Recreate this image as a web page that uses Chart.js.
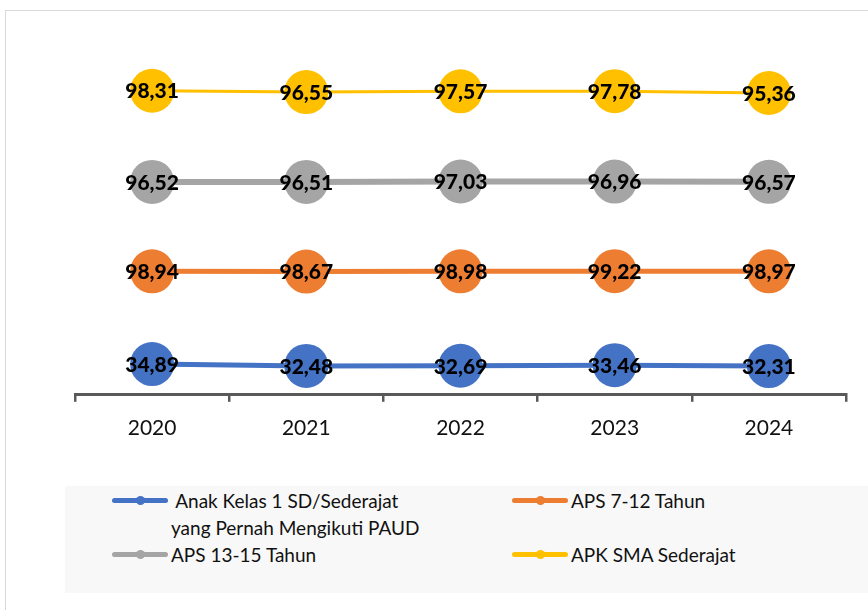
<!DOCTYPE html>
<html>
<head>
<meta charset="utf-8">
<script src="https://cdn.jsdelivr.net/npm/chart.js@4"></script>
<style>
  body { margin: 0; background: #fff; font-family: Lato, sans-serif; }
  #wrap { position: relative; width: 868px; height: 610px; overflow: hidden; }
  #frame { position: absolute; left: 5px; top: 10px; width: 900px; height: 700px; border: 1.5px solid #d9d9d9; }
  #chartBox { position: absolute; left: 0; top: 0; width: 868px; height: 471px; }
  #legend { position: absolute; left: 65px; top: 486px; width: 820px; height: 107px; background: #f8f8f8; }
  .item { position: absolute; display: flex; align-items: flex-start; font-size: 19px; color: #111; line-height: 27px; }
  .icon { position: relative; width: 56px; height: 27px; margin-right: 3px; flex: none; }
  .icon .ln { position: absolute; left: 0; right: 0; top: 11px; height: 5px; border-radius: 3px; }
  .icon .dot { position: absolute; left: 24px; top: 9px; width: 9px; height: 9px; border-radius: 50%; }
</style>
</head>
<body>
<div id="wrap">
  <div id="frame"></div>
  <div id="chartBox"><canvas id="c"></canvas></div>
  <div id="legend"></div>
</div>
<script>
const years = ["2020", "2021", "2022", "2023", "2024"];
const seriesNames = [
  " Anak Kelas 1 SD/Sederajat\nyang Pernah Mengikuti PAUD",
  "APS 7-12 Tahun",
  "APS 13-15 Tahun",
  "APK SMA Sederajat"
];
const paud = [34.89, 32.48, 32.69, 33.46, 32.31];
const aps712 = [98.94, 98.67, 98.98, 99.22, 98.97];
const aps1315 = [96.52, 96.51, 97.03, 96.96, 96.57];
const apkSma = [98.31, 96.55, 97.57, 97.78, 95.36];
const colors = ["#4472C4", "#ED7D31", "#A5A5A5", "#FFC000"];
const lineWidths = [5, 5, 6, 3];

const values = [paud, aps712, aps1315, apkSma];

// data labels drawn at each point
const labelPlugin = {
  id: "labels",
  afterDatasetsDraw(chart) {
    const ctx = chart.ctx;
    ctx.save();
    ctx.font = "900 21px Lato";
    ctx.fillStyle = "#000";
    ctx.textAlign = "center";
    ctx.textBaseline = "middle";
    chart.data.datasets.forEach((ds, i) => {
      chart.getDatasetMeta(i).data.forEach((pt, j) => {
        ctx.fillText(ds.data[j].toFixed(2).replace(".", ","), pt.x, pt.y + 1);
      });
    });
    ctx.restore();
  }
};

// each series gets its own hidden value axis (rows like the original)
const hiddenAxis = (min) => ({ display: false, min: min, max: min + 480 });

new Chart(document.getElementById("c"), {
  type: "line",
  data: {
    labels: years,
    datasets: values.map((v, i) => ({
      label: seriesNames[i],
      data: v,
      yAxisID: "y" + i,
      borderColor: colors[i],
      backgroundColor: colors[i],
      borderWidth: lineWidths[i],
      pointRadius: 22,
      pointHoverRadius: 22,
      pointBorderWidth: 0,
      tension: 0,
      fill: false
    }))
  },
  options: {
    responsive: true,
    maintainAspectRatio: false,
    animation: false,
    layout: { padding: { left: 75, right: 20, top: 15, bottom: 16 } },
    plugins: { legend: { display: false }, tooltip: { enabled: false } },
    scales: {
      x: {
        offset: true,
        grid: { offset: true, drawOnChartArea: false, drawTicks: true, tickLength: 7, color: "#595959", lineWidth: 2.5 },
        border: { display: true, color: "#595959", width: 3 },
        ticks: { color: "#111", font: { family: "Lato", size: 21 }, padding: 14 }
      },
      y0: hiddenAxis(-4.7),
      y1: hiddenAxis(-60),
      y2: hiddenAxis(-177.6),
      y3: hiddenAxis(-293.2)
    }
  },
  plugins: [labelPlugin]
});

// legend built from the same arrays
const legend = document.getElementById("legend");
const pos = [[47, 0], [447, 0], [47, 54], [447, 54]];
seriesNames.forEach((name, i) => {
  const item = document.createElement("div");
  item.className = "item";
  item.style.left = pos[i][0] + "px";
  item.style.top = pos[i][1] + 1 + "px";
  const icon = document.createElement("div");
  icon.className = "icon";
  icon.innerHTML = '<div class="ln" style="background:' + colors[i] + '"></div><div class="dot" style="background:' + colors[i] + '"></div>';
  const txt = document.createElement("div");
  txt.style.whiteSpace = "pre";
  txt.textContent = name;
  item.appendChild(icon);
  item.appendChild(txt);
  legend.appendChild(item);
});
</script>
</body>
</html>
